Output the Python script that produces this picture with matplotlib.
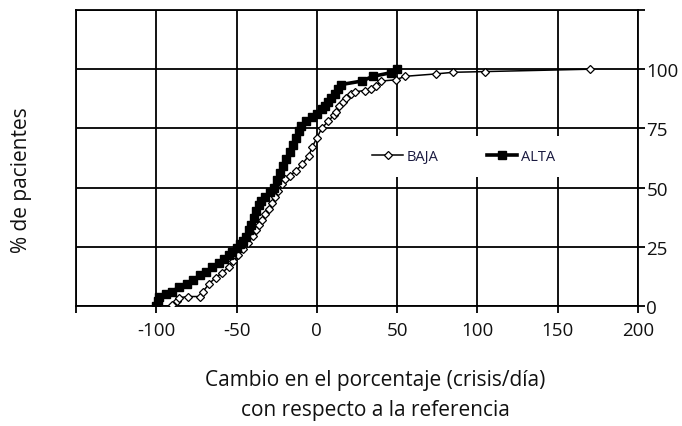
import numpy as np
import matplotlib.pyplot as plt

plt.rcParams['font.family'] = ['Open Sans', 'DejaVu Sans']

# cambio en el porcentaje (crisis/dia) vs % de pacientes
baja_x = [-90, -87, -86, -80, -73, -71, -67, -63, -59, -55, -52, -49, -46, -43,
          -40, -38, -36, -34, -32, -30, -28, -26, -24, -22, -20, -17, -13, -9,
          -5, -3, 0, 3, 7, 10.5, 12, 14, 16, 18, 21, 24, 30, 34, 37, 40, 49,
          55, 74, 85, 105, 170]
baja_y = [0.5, 2, 3.5, 4, 4, 6, 9.5, 12, 14, 16.5, 19, 21.5, 24, 26.5,
          29.5, 32, 34, 36.5, 39, 41, 43.5, 46, 48.5, 51.5, 53.5, 55, 57, 60,
          63.5, 67, 71, 75, 78, 80.5, 82, 84.5, 86, 88, 89.5, 90.5, 91, 91.5, 93, 95, 95.5,
          97, 98, 98.7, 99, 100]

alta_x = [-100, -99, -98, -94, -90, -86, -81, -77, -73, -69, -65, -61, -58, -55,
          -53, -50, -48, -46, -44, -42, -41, -39, -38, -36, -35, -32, -29, -27,
          -25, -23, -21, -19, -17, -15, -13, -11, -10, -7, -3, 0, 3, 5, 7, 9,
          11, 13, 15, 28, 35, 46, 50]
alta_y = [0, 2, 4, 5, 6, 8, 9.5, 11, 13, 14.5, 16.5, 18, 20, 21.5,
          23, 24.5, 26, 27.5, 29, 32, 34, 37, 40, 42.5, 44.5, 46, 48, 50,
          53, 56, 59, 62, 65, 68, 71, 74, 76, 78, 80, 81, 83, 84.5, 86, 88,
          89.5, 91.5, 93.5, 95, 97, 98.5, 100]

x_ticks = [-150, -100, -50, 0, 50, 100, 150, 200]
x_labels = ['', '-100', '-50', '0', '50', '100', '150', '200']
y_ticks = [0, 25, 50, 75, 100, 125]
y_labels = ['0', '25', '50', '75', '100', '']

fig = plt.figure(figsize=(6.82, 4.27), dpi=100)
ax = fig.add_axes([76/682, 1-307/427, (638-76)/682, (307-11)/427])

ax.plot(baja_x, baja_y, color='black', lw=1.1, marker='D', ms=4.5,
        mfc='white', mec='black', mew=0.9, label='BAJA', zorder=3)
ax.plot(alta_x, alta_y, color='black', lw=2.6, marker='s', ms=6,
        mfc='black', mec='black', label='ALTA', zorder=4)

ax.set_xlim(-150, 200)
ax.set_ylim(0, 125)
ax.set_xticks(x_ticks)
ax.set_xticklabels(x_labels)
ax.set_yticks(y_ticks)
ax.set_yticklabels(y_labels)
ax.yaxis.tick_right()
ax.tick_params(axis='both', direction='out', length=5, width=1.3,
               labelsize=13.5, color='black', labelcolor='#111')
ax.tick_params(axis='x', pad=6)
ax.tick_params(axis='y', pad=1)
ax.grid(True, color='black', lw=1.3)
ax.set_axisbelow(True)
for s in ax.spines.values():
    s.set_color('black')
    s.set_linewidth(1.3)

leg = ax.legend(ncol=2, loc='center', bbox_to_anchor=(0.69, 0.505),
                fontsize=10.5, frameon=True, facecolor='white', edgecolor='none',
                framealpha=1, fancybox=False, handlelength=2.1,
                handletextpad=0.25, columnspacing=3.3, borderpad=0.9)
for t in leg.get_texts():
    t.set_color('#1a1a40')

fig.text(22/682, 1-180/427, '% de pacientes', rotation=90, ha='center',
         va='center', fontsize=15, color='#111')
fig.text(375/682, 1-381/427, 'Cambio en el porcentaje (crisis/día)',
         ha='center', va='center', fontsize=15, color='#111')
fig.text(375/682, 1-411/427, 'con respecto a la referencia',
         ha='center', va='center', fontsize=15, color='#111')

fig.savefig('out.png', dpi=100)
